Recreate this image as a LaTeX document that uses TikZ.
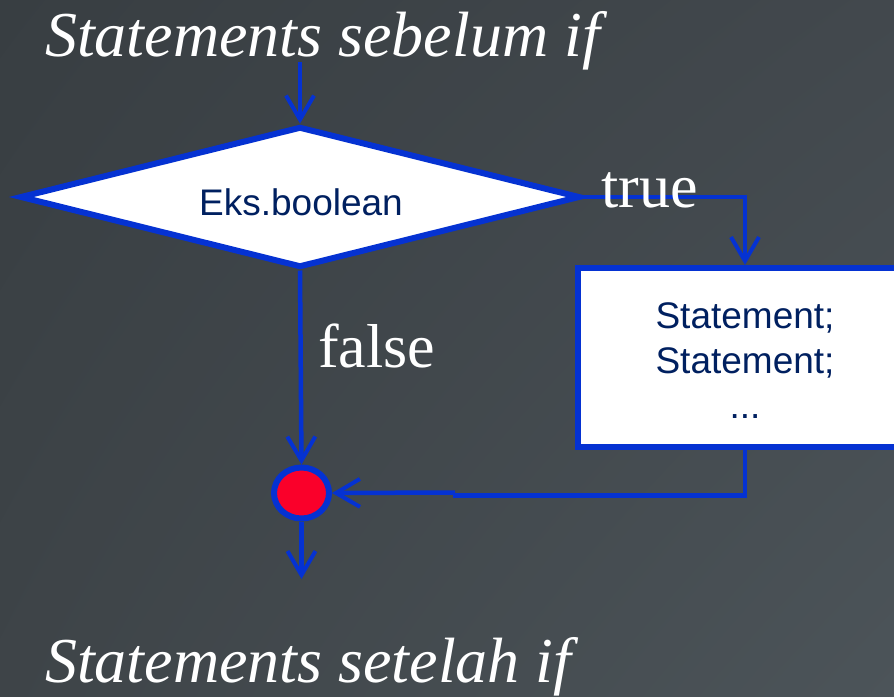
\documentclass[tikz,border=0pt]{standalone}
\usepackage{fontspec}
\setmainfont{Liberation Serif}
\newfontfamily\sansf{Liberation Sans}
\usetikzlibrary{arrows.meta,shapes.geometric,shadings}
\definecolor{bgA}{RGB}{56,62,66}
\definecolor{bgB}{RGB}{66,72,77}
\definecolor{bgC}{RGB}{62,68,72}
\definecolor{bgD}{RGB}{76,84,89}
\definecolor{flowblue}{RGB}{5,50,210}
\definecolor{navy}{RGB}{0,32,96}
\definecolor{mergered}{RGB}{250,0,42}
\tikzset{
  shapeline/.style={draw=flowblue, line width=6pt, fill=white},
  conn/.style={draw=flowblue, line width=4.5pt, -{Straight Barb[length=24pt,width=28pt,line width=4pt]}},
  plain/.style={draw=flowblue, line width=4.5pt},
  headtext/.style={font=\fontsize{64}{64}\selectfont\itshape, text=white, inner sep=0pt, anchor=base west},
  labeltext/.style={font=\fontsize{62}{62}\selectfont, text=white, inner sep=0pt, anchor=base west},
  boxtext/.style={font=\sansf\fontsize{37}{45}\selectfont, text=navy},
}
\begin{document}
\begin{tikzpicture}[x=1pt,y=-1pt]
\useasboundingbox (0,0) rectangle (894,696);
\shade[upper left=bgA, upper right=bgB, lower left=bgC, lower right=bgD] (0,0) rectangle (894,696);
\begin{scope}
\clip (0,0) rectangle (894,696);
% nodes
\node[shapeline, diamond, minimum width=560pt, minimum height=141pt, inner sep=0pt, boxtext] (dia) at (300,197) {};
\node[boxtext] at (301,202) {Eks.boolean};
\node[shapeline, rectangle, minimum width=334pt, minimum height=179pt, inner sep=0pt] (box) at (745,357.5) {};
\node[boxtext, align=center, anchor=north] (boxtxt) at (745,299) {Statement;\\Statement;\\...};
\node[ellipse, draw=flowblue, line width=6pt, fill=mergered, minimum width=55pt, minimum height=51pt, inner sep=0pt] (merge) at (301.5,493) {};
% coordinates
\coordinate (start) at (300,62);
\coordinate (jogA) at (455,495.5);
\coordinate (jogB) at (455,492.5);
\coordinate (finish) at (301.5,579);
% connectors
\draw[conn] (start) -- (dia.north);
\draw[conn] (dia.east) -| (box.north);
\draw[conn] (dia.south) -- (merge.north);
\draw[plain] (box.south) |- (jogA) -- (jogB);
\draw[conn] (jogB) -- (merge.east);
\draw[conn] (merge.south) -- (finish);
% texts
\node[headtext] (top) at (45,56) {Statements sebelum if};
\node[headtext] (bottom) at (45,682) {Statements setelah if};
\node[labeltext] (truelbl) at (601,207) {true};
\node[labeltext] (falselbl) at (318,367) {false};
\end{scope}
\end{tikzpicture}
\end{document}
